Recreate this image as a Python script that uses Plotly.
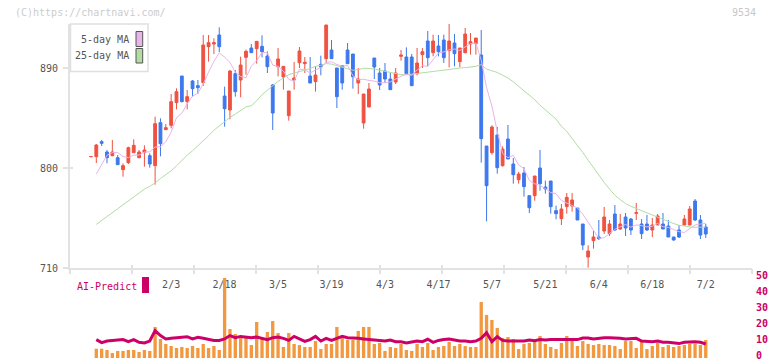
import plotly.graph_objects as go

# ---------------- data ----------------
# index -1 is the flat mark before the first session
idx = list(range(-1, 115))

opens = [810.2,
    810.2, 823.7, 814.4, 811.1, 809.3, 798.5, 804.8, 813.8, 809.3, 813.8,
    811.1, 802.1, 840.8, 834.5, 838.4, 858.8, 882.8, 859.7, 878.3, 874.1,
    876.8, 909.2, 911.6, 919.7, 864.8, 852.2, 884.9, 879.2, 899.6, 908.0,
    907.4, 909.5, 900.8, 874.7, 891.2, 881.9, 847.1, 879.2, 894.8, 893.9,
    882.8, 877.7, 893.3, 898.4, 906.2, 890.0, 892.1, 906.2, 902.6, 876.5,
    840.5, 854.9, 899.0, 885.5, 887.3, 880.1, 877.4, 900.5, 899.9, 899.9,
    884.9, 902.0, 914.3, 903.8, 909.8, 915.2, 905.6, 912.5, 895.7, 903.8,
    911.6, 911.9, 901.7, 819.8, 813.8, 829.7, 802.1, 826.1, 803.6, 789.5,
    795.5, 775.1, 775.1, 800.0, 782.9, 788.3, 761.6, 754.4, 765.2, 765.8,
    764.0, 749.6, 719.9, 734.6, 737.9, 743.3, 740.9, 758.6, 745.1, 755.9,
    754.1, 759.2, 749.6, 749.6, 744.2, 748.7, 749.6, 747.8, 737.9, 744.2,
    748.7, 748.7, 770.3, 753.2, 746.9]
highs = [810.3,
    821.6, 825.2, 816.2, 825.2, 811.7, 804.2, 819.2, 825.8, 816.2, 820.4,
    813.2, 846.2, 844.7, 839.6, 866.6, 871.7, 882.8, 870.2, 879.2, 879.2,
    919.7, 919.7, 916.7, 926.6, 873.2, 888.2, 888.2, 900.2, 906.5, 911.6,
    914.0, 919.4, 905.0, 875.6, 908.0, 891.5, 869.3, 895.4, 908.9, 899.9,
    899.9, 891.5, 901.1, 928.7, 915.2, 890.0, 892.1, 912.5, 902.6, 890.0,
    866.6, 876.5, 899.0, 890.0, 894.5, 885.5, 890.0, 906.2, 908.6, 902.6,
    908.0, 908.0, 923.3, 920.0, 919.7, 920.0, 929.6, 920.6, 908.0, 926.0,
    921.5, 917.0, 924.2, 819.8, 838.4, 836.9, 819.5, 838.7, 809.0, 796.4,
    800.9, 775.1, 792.8, 816.2, 788.6, 788.3, 766.1, 767.6, 777.5, 777.5,
    764.0, 749.6, 730.4, 743.3, 753.2, 764.9, 753.2, 766.7, 758.6, 759.5,
    755.0, 768.5, 754.1, 757.7, 755.0, 758.6, 759.5, 753.2, 737.9, 748.7,
    757.7, 765.8, 772.1, 757.7, 749.6]
lows = [810.2,
    804.5, 819.8, 804.2, 810.5, 803.0, 792.2, 803.6, 813.8, 808.7, 801.2,
    800.3, 785.0, 810.5, 834.2, 835.7, 852.8, 859.1, 852.8, 864.2, 866.6,
    873.8, 895.7, 902.6, 904.4, 837.2, 843.8, 864.2, 863.6, 884.0, 903.8,
    893.9, 899.6, 885.5, 834.2, 882.5, 870.5, 842.6, 870.5, 890.0, 885.5,
    876.5, 868.7, 883.4, 894.5, 898.4, 854.0, 870.5, 893.9, 871.4, 866.6,
    835.4, 854.9, 880.1, 870.2, 876.5, 870.5, 875.6, 896.6, 884.9, 874.1,
    883.4, 890.0, 891.5, 900.5, 900.5, 894.5, 890.6, 891.5, 890.6, 903.2,
    902.0, 902.0, 804.8, 752.0, 812.0, 794.9, 801.2, 808.1, 785.9, 785.9,
    774.2, 759.5, 770.6, 779.6, 776.9, 758.9, 753.8, 748.7, 758.9, 760.7,
    753.2, 726.2, 710.3, 727.4, 735.2, 740.6, 738.8, 743.3, 744.2, 738.8,
    739.7, 753.2, 736.1, 743.3, 737.9, 748.7, 745.1, 737.9, 734.6, 737.0,
    748.7, 748.7, 752.3, 736.1, 737.0]
closes = [810.3,
    820.7, 822.2, 809.3, 814.4, 803.0, 802.1, 818.3, 820.4, 814.4, 816.2,
    803.6, 839.9, 821.9, 836.3, 859.7, 868.7, 859.7, 864.2, 871.4, 872.3,
    910.7, 912.8, 912.8, 909.2, 853.4, 887.3, 868.7, 892.7, 905.0, 903.8,
    914.0, 904.7, 891.2, 849.5, 898.1, 891.5, 869.3, 881.0, 905.3, 895.1,
    876.5, 883.7, 890.9, 928.7, 898.4, 864.2, 876.5, 893.9, 882.2, 880.1,
    866.6, 871.1, 890.9, 874.7, 880.1, 870.5, 885.5, 901.7, 884.9, 874.1,
    894.5, 904.7, 899.3, 914.3, 904.7, 899.3, 914.3, 902.9, 908.0, 920.6,
    913.7, 917.0, 826.4, 784.1, 836.9, 800.3, 817.1, 808.1, 794.0, 794.6,
    783.2, 764.3, 792.8, 785.9, 781.1, 765.2, 758.9, 763.1, 773.6, 771.2,
    753.2, 730.7, 725.3, 737.9, 736.4, 755.9, 749.6, 744.2, 749.6, 746.0,
    744.2, 759.8, 740.9, 744.2, 748.7, 756.8, 745.1, 737.9, 735.2, 737.9,
    754.1, 763.1, 753.2, 739.7, 740.6]

ma5 = [None,
    794.6, 802.7, 811.5, 813.8, 813.9, 810.2, 809.4, 811.6, 811.6, 814.3,
    814.6, 818.9, 819.2, 823.6, 832.3, 845.3, 849.3, 857.7, 864.7, 867.3,
    875.7, 886.3, 896.0, 903.6, 899.8, 895.1, 886.3, 882.3, 881.4, 891.5,
    896.8, 904.0, 903.7, 892.6, 891.5, 887.0, 879.9, 877.9, 889.0, 888.4,
    885.4, 888.3, 890.3, 895.0, 895.6, 893.2, 891.7, 892.3, 883.0, 879.4,
    879.9, 878.8, 878.2, 876.7, 876.7, 877.5, 880.3, 882.5, 884.5, 883.3,
    888.1, 892.0, 891.5, 897.4, 903.5, 904.5, 906.4, 907.1, 905.8, 909.0,
    911.9, 912.4, 897.1, 872.4, 855.6, 832.9, 813.0, 809.3, 811.3, 802.8,
    799.4, 788.8, 785.8, 784.2, 781.5, 777.9, 776.8, 770.8, 768.4, 766.4,
    764.0, 758.4, 750.8, 743.7, 736.7, 737.2, 741.0, 744.8, 747.1, 749.1,
    746.7, 748.8, 748.1, 747.0, 747.6, 750.1, 747.1, 746.5, 744.7, 742.6,
    742.0, 745.6, 748.7, 749.6, 750.1]
ma25 = [None,
    749.2, 752.8, 756.3, 759.9, 763.4, 767.0, 770.5, 774.0, 777.6, 781.0,
    783.5, 786.5, 790.5, 794.0, 797.5, 802.0, 807.0, 811.5, 815.5, 820.0,
    824.0, 829.0, 834.0, 838.0, 841.5, 845.5, 848.5, 851.5, 855.0, 856.0,
    860.5, 866.0, 870.0, 874.5, 878.0, 881.0, 884.0, 885.5, 886.5, 888.0,
    889.5, 891.5, 892.5, 894.0, 893.5, 892.0, 890.8, 889.5, 888.0, 888.5,
    889.8, 889.5, 889.2, 888.0, 887.0, 886.4, 885.0, 884.0, 883.8, 884.5,
    885.3, 886.0, 886.5, 887.0, 887.5, 888.0, 888.8, 889.5, 890.0, 890.3,
    890.6, 891.5, 893.0, 889.0, 887.5, 886.0, 883.5, 881.0, 877.5, 873.5,
    870.0, 866.0, 861.5, 856.5, 852.5, 848.0, 844.0, 837.5, 833.0, 826.5,
    820.5, 814.0, 807.0, 800.0, 793.5, 787.0, 781.0, 775.5, 771.5, 768.0,
    765.5, 763.5, 761.5, 759.5, 757.5, 756.0, 754.0, 752.0, 750.0, 748.5,
    747.5, 747.0, 746.7, 746.6, 746.8]

volume = [None,
    5.8, 5.8, 5.0, 3.1, 4.4, 4.4, 5.0, 5.0, 3.75, 5.0,
    4.4, 19.4, 11.9, 8.75, 7.5, 6.25, 6.9, 6.25, 7.5, 6.25,
    8.75, 6.25, 7.5, 5.0, 50, 18.1, 15, 12.5, 12.5, 8.1,
    22.5, 11.9, 16.25, 23.1, 15.6, 6.9, 15.6, 8.75, 8.1, 6.9,
    6.9, 10.6, 5.6, 8.75, 8.75, 19.4, 12.5, 11.25, 11.25, 16.9,
    19.4, 19.4, 8.75, 9.4, 4.4, 6.9, 6.25, 8.75, 5.0, 4.4,
    8.75, 6.9, 9.4, 5.0, 6.9, 7.5, 10, 7.5, 8.75, 7.5,
    6.9, 6.9, 35, 26.9, 23.75, 18.75, 12.5, 13.1, 11.9, 5.6,
    8.75, 9.4, 10, 13.75, 8.75, 6.9, 5.6, 9.4, 13.75, 12.5,
    7.5, 10.6, 8.75, 8.1, 8.75, 8.1, 8.1, 7.5, 5.6, 10.6,
    10.6, 6.25, 10.6, 5.6, 7.5, 9.4, 6.9, 8.1, 6.9, 7.5,
    8.1, 8.75, 8.75, 8.1, 11.25]
ai_predict = [None,
    11.5, 9.6, 10.6, 11.0, 11.5, 11.5, 10.2, 11.5, 9.8, 9.4,
    10.6, 17.1, 14.0, 11.9, 12.3, 12.7, 12.7, 13.3, 11.9, 12.9,
    12.3, 11.5, 11.0, 11.0, 11.9, 14.0, 12.7, 13.5, 13.1, 12.7,
    13.1, 12.3, 11.5, 12.7, 13.1, 12.3, 11.0, 13.5, 11.9, 10.4,
    11.5, 13.5, 10.6, 12.3, 11.0, 12.3, 13.5, 12.7, 12.7, 12.3,
    11.9, 11.5, 11.0, 11.0, 10.6, 11.25, 10.2, 10.2, 9.4, 10.0,
    10.6, 10.2, 11.7, 9.8, 11.0, 11.5, 11.9, 11.25, 10.6, 10.6,
    10.2, 10.6, 12.3, 15.8, 10.2, 13.3, 11.0, 10.6, 10.6, 10.6,
    10.6, 11.25, 10.8, 11.5, 11.25, 11.5, 11.5, 11.5, 11.5, 11.25,
    11.5, 12.5, 12.5, 11.9, 12.5, 12.7, 12.7, 12.7, 12.3, 11.9,
    12.3, 12.3, 10.6, 10.2, 10.2, 10.6, 9.8, 9.8, 9.4, 9.0,
    9.8, 10.2, 10.2, 9.8, 8.75]

tick_idx = [14, 24, 34, 44, 54, 64, 74, 84, 94, 104, 114]
tick_labels = ["2/3", "2/18", "3/5", "3/19", "4/3", "4/17", "5/7", "5/21", "6/4", "6/18", "7/2"]
price_ticks = [710, 800, 890]
vol_ticks = [0, 10, 20, 30, 40, 50]

# ---------------- style ----------------
W, H = 772, 361
RED, BLUE = "#EF5241", "#3D78EE"
PINK, GREEN = "#E9B4EA", "#B2DCA4"
ORANGE, MAG = "#F2983F", "#CC0066"
AXC = "#E2E2E2"
TXT = "#555555"
MONO = "DejaVu Sans Mono, Liberation Mono, monospace"

def px(p):
    return p / W

def py(p):
    return 1 - p / H

XR = [-4.92, 122.65]
YR = [710, 929.6]

fig = go.Figure()
fig.add_trace(go.Bar(x=idx, y=volume, xaxis="x", yaxis="y2", marker=dict(color=ORANGE, line=dict(width=0)),
                     width=0.62, showlegend=False, hoverinfo="skip"))
fig.add_trace(go.Scatter(x=idx, y=ai_predict, xaxis="x", yaxis="y2", mode="lines",
                         line=dict(color=MAG, width=3), showlegend=False, hoverinfo="skip"))
fig.add_trace(go.Candlestick(x=idx, open=opens, high=highs, low=lows, close=closes,
                             increasing=dict(line=dict(color=RED, width=1), fillcolor=RED),
                             decreasing=dict(line=dict(color=BLUE, width=1), fillcolor=BLUE),
                             whiskerwidth=0, xaxis="x", yaxis="y", showlegend=False, hoverinfo="skip"))
fig.add_trace(go.Scatter(x=idx, y=ma25, mode="lines", line=dict(color=GREEN, width=1),
                         xaxis="x", yaxis="y", showlegend=False, hoverinfo="skip"))
fig.add_trace(go.Scatter(x=idx, y=ma5, mode="lines", line=dict(color=PINK, width=1),
                         xaxis="x", yaxis="y", showlegend=False, hoverinfo="skip"))
# carriers for decorative tick axes
fig.add_trace(go.Scatter(x=[None], y=[None], xaxis="x2", yaxis="y", showlegend=False, hoverinfo="skip"))
fig.add_trace(go.Scatter(x=[None], y=[None], xaxis="x3", yaxis="y", showlegend=False, hoverinfo="skip"))
fig.add_trace(go.Scatter(x=[None], y=[None], xaxis="x", yaxis="y3", showlegend=False, hoverinfo="skip"))

dom_x = [px(70), px(752)]
ndiv = 11
dtick = (XR[1] - XR[0]) / ndiv

fig.update_layout(
    width=W, height=H, autosize=False,
    margin=dict(l=0, r=0, t=0, b=0, pad=0, autoexpand=False),
    paper_bgcolor="white", plot_bgcolor="white",
    boxgap=0.25, bargap=0.3, showlegend=False,
    font=dict(family=MONO, size=10, color=TXT),
    xaxis=dict(domain=dom_x, range=XR, anchor="y", showgrid=False, zeroline=False, automargin=False,
               showline=True, linecolor=AXC, linewidth=2, ticks="",
               tickmode="array", tickvals=tick_idx, ticktext=tick_labels,
               tickfont=dict(family=MONO, size=10, color=TXT), ticklabelstandoff=6,
               rangeslider=dict(visible=False), fixedrange=True),
    xaxis2=dict(domain=dom_x, range=XR, anchor="y", overlaying="x", showgrid=False, zeroline=False,
                automargin=False, showline=False, showticklabels=False, tickmode="linear",
                tick0=XR[0], dtick=dtick, ticks="outside", ticklen=5, tickwidth=2, tickcolor=AXC),
    xaxis3=dict(domain=dom_x, range=XR, anchor="y", overlaying="x", showgrid=False, zeroline=False,
                automargin=False, showline=False, showticklabels=False, tickmode="linear",
                tick0=XR[0], dtick=dtick, ticks="inside", ticklen=3, tickwidth=2, tickcolor=AXC),
    yaxis=dict(domain=[py(268), py(24)], range=YR, anchor="x", showgrid=False, zeroline=False,
               automargin=False, showline=True, linecolor=AXC, linewidth=2, tickmode="array",
               tickvals=price_ticks, ticks="outside", ticklen=5, tickwidth=2, tickcolor=AXC,
               tickfont=dict(family=MONO, size=10, color=TXT), ticklabelstandoff=3,
               ticklabeloverflow="allow"),
    yaxis3=dict(domain=[py(268), py(24)], range=YR, anchor="x", overlaying="y", side="left",
                automargin=False, showgrid=False, zeroline=False, showline=False, showticklabels=False,
                tickmode="array", tickvals=price_ticks, ticks="inside", ticklen=3, tickwidth=2, tickcolor=AXC),
    yaxis2=dict(domain=[py(358), py(278)], range=[0, 50], anchor="x", side="right",
                automargin=False, showgrid=False, zeroline=False, showline=False, ticks="",
                tickmode="array", tickvals=vol_ticks, ticklabeloverflow="allow", ticklabelshift=-3,
                tickfont=dict(family=MONO, size=10, color=MAG, weight="bold"), ticklabelstandoff=3),
)

shapes = [
    dict(type="rect", xref="paper", yref="paper", x0=px(70.5), x1=px(148), y0=py(71.5), y1=py(24),
         line=dict(color="#E0E0E0", width=1.5), fillcolor="white", layer="above"),
    dict(type="rect", xref="paper", yref="paper", x0=px(136), x1=px(142.7), y0=py(46.5), y1=py(31.5),
         line=dict(color="#555555", width=1), fillcolor=PINK, layer="above"),
    dict(type="rect", xref="paper", yref="paper", x0=px(136), x1=px(142.7), y0=py(63), y1=py(48.5),
         line=dict(color="#555555", width=1), fillcolor=GREEN, layer="above"),
    dict(type="rect", xref="paper", yref="paper", x0=px(142), x1=px(149), y0=py(293), y1=py(277),
         line=dict(width=0), fillcolor=MAG, layer="above"),
]
annotations = [
    dict(text="(C)https://chartnavi.com/", x=px(13), y=py(12), xref="paper", yref="paper",
         xanchor="left", yanchor="middle", showarrow=False, font=dict(family=MONO, size=10, color="#CCCCCC")),
    dict(text="9534", x=px(758), y=py(12), xref="paper", yref="paper",
         xanchor="right", yanchor="middle", showarrow=False, font=dict(family=MONO, size=10, color="#C8C8C8")),
    dict(text="5-day MA", x=px(131), y=py(39.5), xref="paper", yref="paper",
         xanchor="right", yanchor="middle", showarrow=False, font=dict(family=MONO, size=10, color=TXT)),
    dict(text="25-day MA", x=px(131), y=py(56), xref="paper", yref="paper",
         xanchor="right", yanchor="middle", showarrow=False, font=dict(family=MONO, size=10, color=TXT)),
    dict(text="AI-Predict", x=px(75), y=py(286), xref="paper", yref="paper",
         xanchor="left", yanchor="middle", showarrow=False, font=dict(family=MONO, size=10, color=MAG)),
]
fig.update_layout(shapes=shapes, annotations=annotations)

fig.write_html("out.html")
